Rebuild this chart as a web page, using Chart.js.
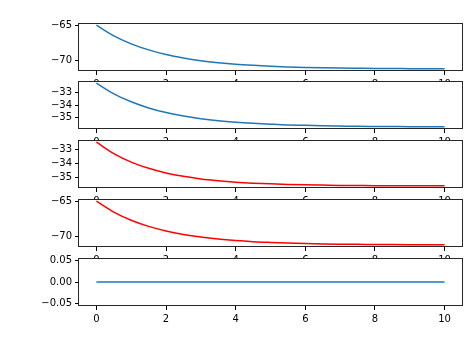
<!DOCTYPE html>
<html>
<head>
<meta charset="utf-8">
<script src="https://cdn.jsdelivr.net/npm/chart.js@4.4.1/dist/chart.umd.min.js"></script>
<style>
  html, body { margin: 0; padding: 0; background: #ffffff; }
  #wrap { position: relative; width: 474px; height: 338px; overflow: hidden; background: #fff; }
  canvas { position: absolute; left: 0; }
</style>
</head>
<body>
<div id="wrap"></div>
<script>
// ---- data ----
const xs = [0, 0.5, 1, 1.5, 2, 2.5, 3, 3.5, 4, 4.5, 5, 5.5, 6, 6.5, 7, 7.5, 8, 8.5, 9, 9.5, 10];
const panel1Blue = [-65.00, -66.51, -67.64, -68.50, -69.16, -69.65, -70.03, -70.31, -70.53, -70.69, -70.82, -70.91, -70.98, -71.03, -71.07, -71.10, -71.13, -71.14, -71.16, -71.17, -71.18];
const panel2Blue = [-32.25, -33.10, -33.74, -34.23, -34.60, -34.88, -35.09, -35.25, -35.37, -35.46, -35.53, -35.59, -35.62, -35.66, -35.68, -35.70, -35.71, -35.72, -35.73, -35.73, -35.74];
const panel3Red  = [-32.50, -33.31, -33.91, -34.35, -34.68, -34.92, -35.10, -35.23, -35.33, -35.40, -35.45, -35.49, -35.52, -35.54, -35.56, -35.57, -35.58, -35.58, -35.59, -35.59, -35.59];
const panel4Red  = [-65.00, -66.54, -67.70, -68.57, -69.22, -69.71, -70.08, -70.36, -70.57, -70.73, -70.84, -70.93, -71.00, -71.05, -71.09, -71.11, -71.14, -71.15, -71.16, -71.17, -71.18];
const panel5Blue = [0, 0, 0, 0, 0, 0, 0, 0, 0, 0, 0, 0, 0, 0, 0, 0, 0, 0, 0, 0, 0];

const xTicks = [0, 2, 4, 6, 8, 10];
const yTicks1 = [-70, -65];
const yTicks2 = [-35, -34, -33];
const yTicks3 = [-35, -34, -33];
const yTicks4 = [-70, -65];
const yTicks5 = [-0.05, 0, 0.05];

// ---- layout ----
const BLUE = '#1f77b4';
const RED = '#ff0000';
const FONT = { family: "'DejaVu Sans', sans-serif", size: 10 };
const panels = [
  { data: panel1Blue, color: BLUE, yTicks: yTicks1, dec: 0, top: 22 },
  { data: panel2Blue, color: BLUE, yTicks: yTicks2, dec: 0, top: 80 },
  { data: panel3Red,  color: RED,  yTicks: yTicks3, dec: 0, top: 139 },
  { data: panel4Red,  color: RED,  yTicks: yTicks4, dec: 0, top: 198 },
  { data: panel5Blue, color: BLUE, yTicks: yTicks5, dec: 2, top: 257 }
];
const AXH = 49, PADTOP = 8, XAXH = 24, LEFT = 79, RIGHT = 462, W = 474;

function fmt(v, dec) {
  const s = Math.abs(v).toFixed(dec);
  return (v < 0 ? '\u2212' : '') + s;
}

const framePlugin = {
  id: 'frame',
  beforeDraw(chart) {
    const a = chart.chartArea, c = chart.ctx;
    c.save();
    c.fillStyle = '#ffffff';
    c.fillRect(a.left, a.top, a.right - a.left, a.bottom - a.top);
    c.restore();
  },
  afterDraw(chart) {
    const a = chart.chartArea, c = chart.ctx;
    c.save();
    c.strokeStyle = '#262626';
    c.lineWidth = 1;
    c.strokeRect(Math.round(a.left) - 0.5, Math.round(a.top) + 0.5,
                 Math.round(a.right - a.left) + 1, Math.round(a.bottom - a.top) - 1);
    c.restore();
  }
};

const wrap = document.getElementById('wrap');
panels.forEach((p) => {
  const cv = document.createElement('canvas');
  const H = AXH + PADTOP + XAXH;
  cv.width = W; cv.height = H;
  cv.style.width = W + 'px'; cv.style.height = H + 'px';
  cv.style.top = (p.top - PADTOP) + 'px';
  wrap.appendChild(cv);

  let lo = Math.min(...p.data), hi = Math.max(...p.data);
  if (lo === hi) { lo -= 0.05; hi += 0.05; }
  const m = (hi - lo) * 0.05;
  const yMin = lo - m, yMax = hi + m;

  new Chart(cv, {
    type: 'line',
    data: {
      datasets: [{
        data: xs.map((x, i) => ({ x: x, y: p.data[i] })),
        borderColor: p.color,
        borderWidth: 1.5,
        pointRadius: 0,
        fill: false,
        cubicInterpolationMode: 'monotone'
      }]
    },
    options: {
      responsive: false,
      animation: false,
      events: [],
      layout: { padding: { top: PADTOP, left: 0, right: W - RIGHT, bottom: 0 } },
      plugins: { legend: { display: false }, tooltip: { enabled: false } },
      scales: {
        x: {
          type: 'linear', min: -0.5, max: 10.5,
          border: { display: false },
          grid: { drawOnChartArea: false, drawTicks: true, tickLength: 4, tickColor: '#000', lineWidth: 1 },
          ticks: { color: '#000', font: FONT, padding: 3, maxRotation: 0, autoSkip: false,
                   callback: (v) => fmt(v, 0) },
          afterBuildTicks: (s) => { s.ticks = xTicks.map(v => ({ value: v })); },
          afterFit: (s) => { s.height = XAXH; }
        },
        y: {
          type: 'linear', min: yMin, max: yMax,
          border: { display: false },
          grid: { drawOnChartArea: false, drawTicks: true, tickLength: 4, tickColor: '#000', lineWidth: 1 },
          ticks: { color: '#000', font: FONT, padding: 3, autoSkip: false,
                   callback: (v) => fmt(v, p.dec) },
          afterBuildTicks: (s) => { s.ticks = p.yTicks.map(v => ({ value: v })); },
          afterFit: (s) => { s.width = LEFT; }
        }
      }
    },
    plugins: [framePlugin]
  });
});
</script>
</body>
</html>
